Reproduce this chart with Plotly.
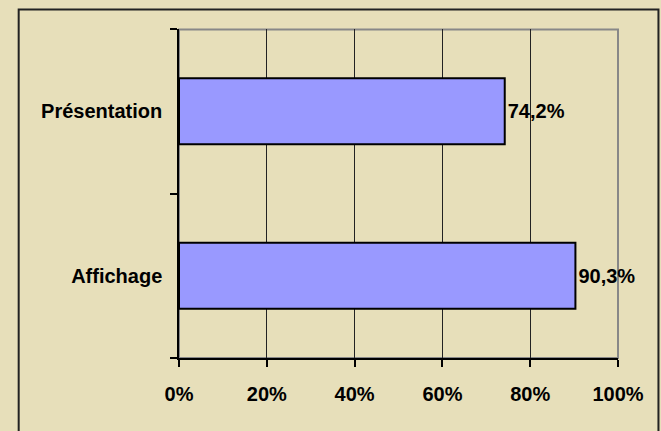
import plotly.graph_objects as go

categories = ["Affichage", "Présentation"]
values = [90.3, 74.2]  # percent
x_ticks = [0, 20, 40, 60, 80, 100]
x_tick_labels = [f"{t}%" for t in x_ticks]
bar_labels = [f"{v:.1f}%".replace(".", ",") for v in values]

BG = "#E7DFBA"
FONT = dict(family="Liberation Sans, Arial, sans-serif", size=20, color="#000000", weight="bold")

fig = go.Figure()
fig.add_trace(go.Bar(
    y=categories,
    x=values,
    orientation="h",
    width=0.4,
    marker=dict(color="#9999FF", line=dict(color="#000000", width=2)),
    text=bar_labels,
    textposition="outside",
    textfont=FONT,
    cliponaxis=False,
    hoverinfo="skip",
))

L, R, T, B = 179, 42.5, 29, 73
W, H = 661, 431
pw = W - L - R
ph = H - T - B

def px_x(p):
    return (p - L) / pw

def px_y(p):
    return (H - B - p) / ph

fig.update_layout(
    width=W, height=H,
    margin=dict(l=L, r=R, t=T, b=B, pad=0),
    paper_bgcolor=BG,
    plot_bgcolor=BG,
    showlegend=False,
    font=FONT,
    xaxis=dict(
        range=[0, 100],
        tickmode="array",
        tickvals=x_ticks,
        ticktext=x_tick_labels,
        showgrid=True,
        gridcolor="#222222",
        gridwidth=1,
        showline=True,
        linecolor="#000000",
        linewidth=1.5,
        ticks="outside",
        ticklen=7,
        tickcolor="#000000",
        tickwidth=1.5,
        ticklabelstandoff=10,
        zeroline=False,
        tickfont=FONT,
    ),
    yaxis=dict(
        type="category",
        categoryorder="array",
        categoryarray=categories,
        range=[-0.5, 1.5],
        showgrid=False,
        showline=True,
        linecolor="#000000",
        linewidth=1.5,
        ticks="outside",
        tickson="boundaries",
        ticklen=7,
        tickcolor="#000000",
        tickwidth=1.5,
        ticklabelstandoff=11,
        tickfont=FONT,
    ),
    shapes=[
        # grey border of plot area (left/bottom covered by black axis lines)
        dict(type="rect", xref="paper", yref="paper", x0=0, x1=1, y0=0, y1=px_y(29.5),
             line=dict(color="#888888", width=2), fillcolor="rgba(0,0,0,0)", layer="below"),
        # outer frame
        dict(type="rect", xref="paper", yref="paper",
             x0=px_x(18.5), x1=px_x(659), y0=px_y(445), y1=px_y(9.5),
             line=dict(color="#222222", width=2), fillcolor="rgba(0,0,0,0)", layer="below"),
    ],
)

fig.write_html(
    "out.html",
    config={"displayModeBar": False},
    post_script="document.body.style.margin='0';document.body.style.background='" + BG + "';",
)
